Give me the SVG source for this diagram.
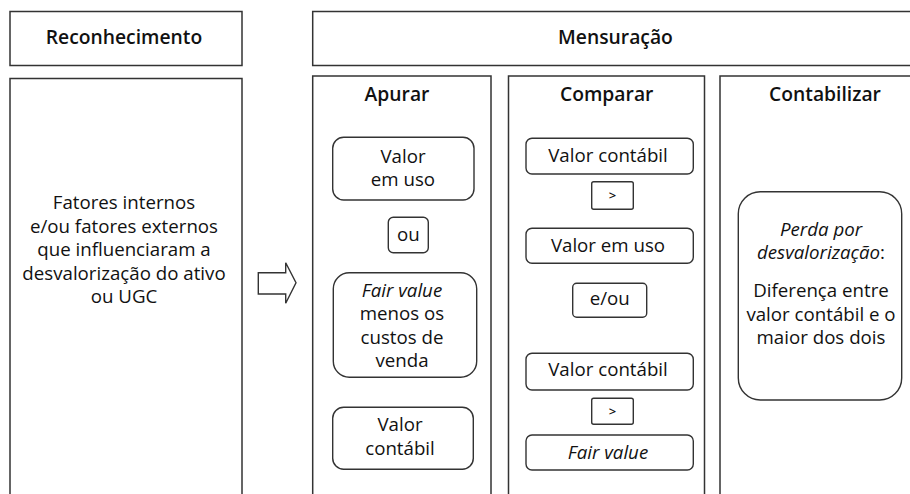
<svg xmlns="http://www.w3.org/2000/svg" width="910" height="494" viewBox="0 0 910 494">
<style>
.frame{fill:#fff;stroke:#333;stroke-width:1.5}
.box{fill:#fff;stroke:#333;stroke-width:1.4}
text{font-family:"Open Sans","Noto Sans","Liberation Sans",sans-serif;font-size:18.7px;fill:#111;text-anchor:middle}
.h{font-weight:600;font-size:19.3px}
.i{font-style:italic}
.s{font-size:13px;font-weight:600}
</style>
<rect x="0" y="0" width="910" height="494" fill="#fff"/>
<g id="reconhecimento-header">
<rect class="frame" x="10" y="11.5" width="232" height="54"/>
<text class="h" x="124" y="44">Reconhecimento</text>
</g>
<g id="reconhecimento-body">
<rect class="frame" x="10" y="78.5" width="232" height="440"/>
<text x="124" y="209">Fatores internos</text>
<text x="124" y="232.5">e/ou fatores externos</text>
<text x="124" y="256">que influenciaram a</text>
<text x="124" y="279.5">desvalorização do ativo</text>
<text x="124" y="303">ou UGC</text>
</g>
<g id="connectors">
<path class="box" d="M258.3,272.7 H285.7 V262.7 L296,282.8 L285.7,303.3 V294 H258.3 Z"/>
</g>
<g id="mensuracao-header">
<rect class="frame" x="312.7" y="11.5" width="610" height="54"/>
<text class="h" x="615.5" y="44">Mensuração</text>
</g>
<g id="apurar">
<rect class="frame" x="312.7" y="76" width="178.3" height="440"/>
<text class="h" x="397" y="101">Apurar</text>
</g>
<g id="apurar-valor-em-uso">
<rect class="box" x="332.7" y="137.3" width="141.3" height="62.7" rx="11"/>
<text x="403" y="163">Valor</text>
<text x="403" y="186">em uso</text>
</g>
<g id="apurar-ou">
<rect class="box" x="388.3" y="217.3" width="40" height="35.4" rx="5"/>
<text x="408.3" y="240.5">ou</text>
</g>
<g id="apurar-fair-value">
<rect class="box" x="333.3" y="272.7" width="143.4" height="104.6" rx="16"/>
<text class="i" x="402" y="296.5">Fair value</text>
<text x="402" y="320">menos os</text>
<text x="402" y="343.5">custos de</text>
<text x="402" y="367">venda</text>
</g>
<g id="apurar-valor-contabil">
<rect class="box" x="332.7" y="407.3" width="140.6" height="62" rx="11"/>
<text x="400" y="431">Valor</text>
<text x="400" y="454.5">contábil</text>
</g>
<g id="comparar">
<rect class="frame" x="508.5" y="76" width="196" height="440"/>
<text class="h" x="606.7" y="101">Comparar</text>
</g>
<g id="comparar-valor-contabil-1">
<rect class="box" x="526" y="138.3" width="167.3" height="35.7" rx="6"/>
<text x="608" y="162">Valor contábil</text>
</g>
<g id="comparar-maior-1">
<rect class="box" x="591.7" y="181.7" width="41.6" height="27.6" rx="2"/>
<text class="s" x="612.5" y="200">&gt;</text>
</g>
<g id="comparar-valor-em-uso">
<rect class="box" x="526" y="228.3" width="167.3" height="35" rx="6"/>
<text x="608" y="252">Valor em uso</text>
</g>
<g id="comparar-e-ou">
<rect class="box" x="572.7" y="283.3" width="74" height="34" rx="4"/>
<text x="609.7" y="305">e/ou</text>
</g>
<g id="comparar-valor-contabil-2">
<rect class="box" x="526" y="353.3" width="167.3" height="36.7" rx="6"/>
<text x="608" y="376">Valor contábil</text>
</g>
<g id="comparar-maior-2">
<rect class="box" x="591.7" y="398.3" width="41.6" height="26" rx="2"/>
<text class="s" x="612.5" y="416">&gt;</text>
</g>
<g id="comparar-fair-value">
<rect class="box" x="526" y="435" width="167.3" height="35" rx="6"/>
<text class="i" x="608" y="459">Fair value</text>
</g>
<g id="contabilizar">
<rect class="frame" x="720" y="76" width="220" height="440"/>
<text class="h" x="825" y="101">Contabilizar</text>
</g>
<g id="contabilizar-perda">
<rect class="box" x="738.3" y="191.7" width="163.4" height="208.3" rx="22"/>
<text x="821" y="235.5"><tspan class="i">Perda por</tspan></text>
<text x="821" y="259"><tspan class="i">desvalorização</tspan>:</text>
<text x="821" y="297">Diferença entre</text>
<text x="821" y="320.5">valor contábil e o</text>
<text x="821" y="344">maior dos dois</text>
</g>
</svg>
